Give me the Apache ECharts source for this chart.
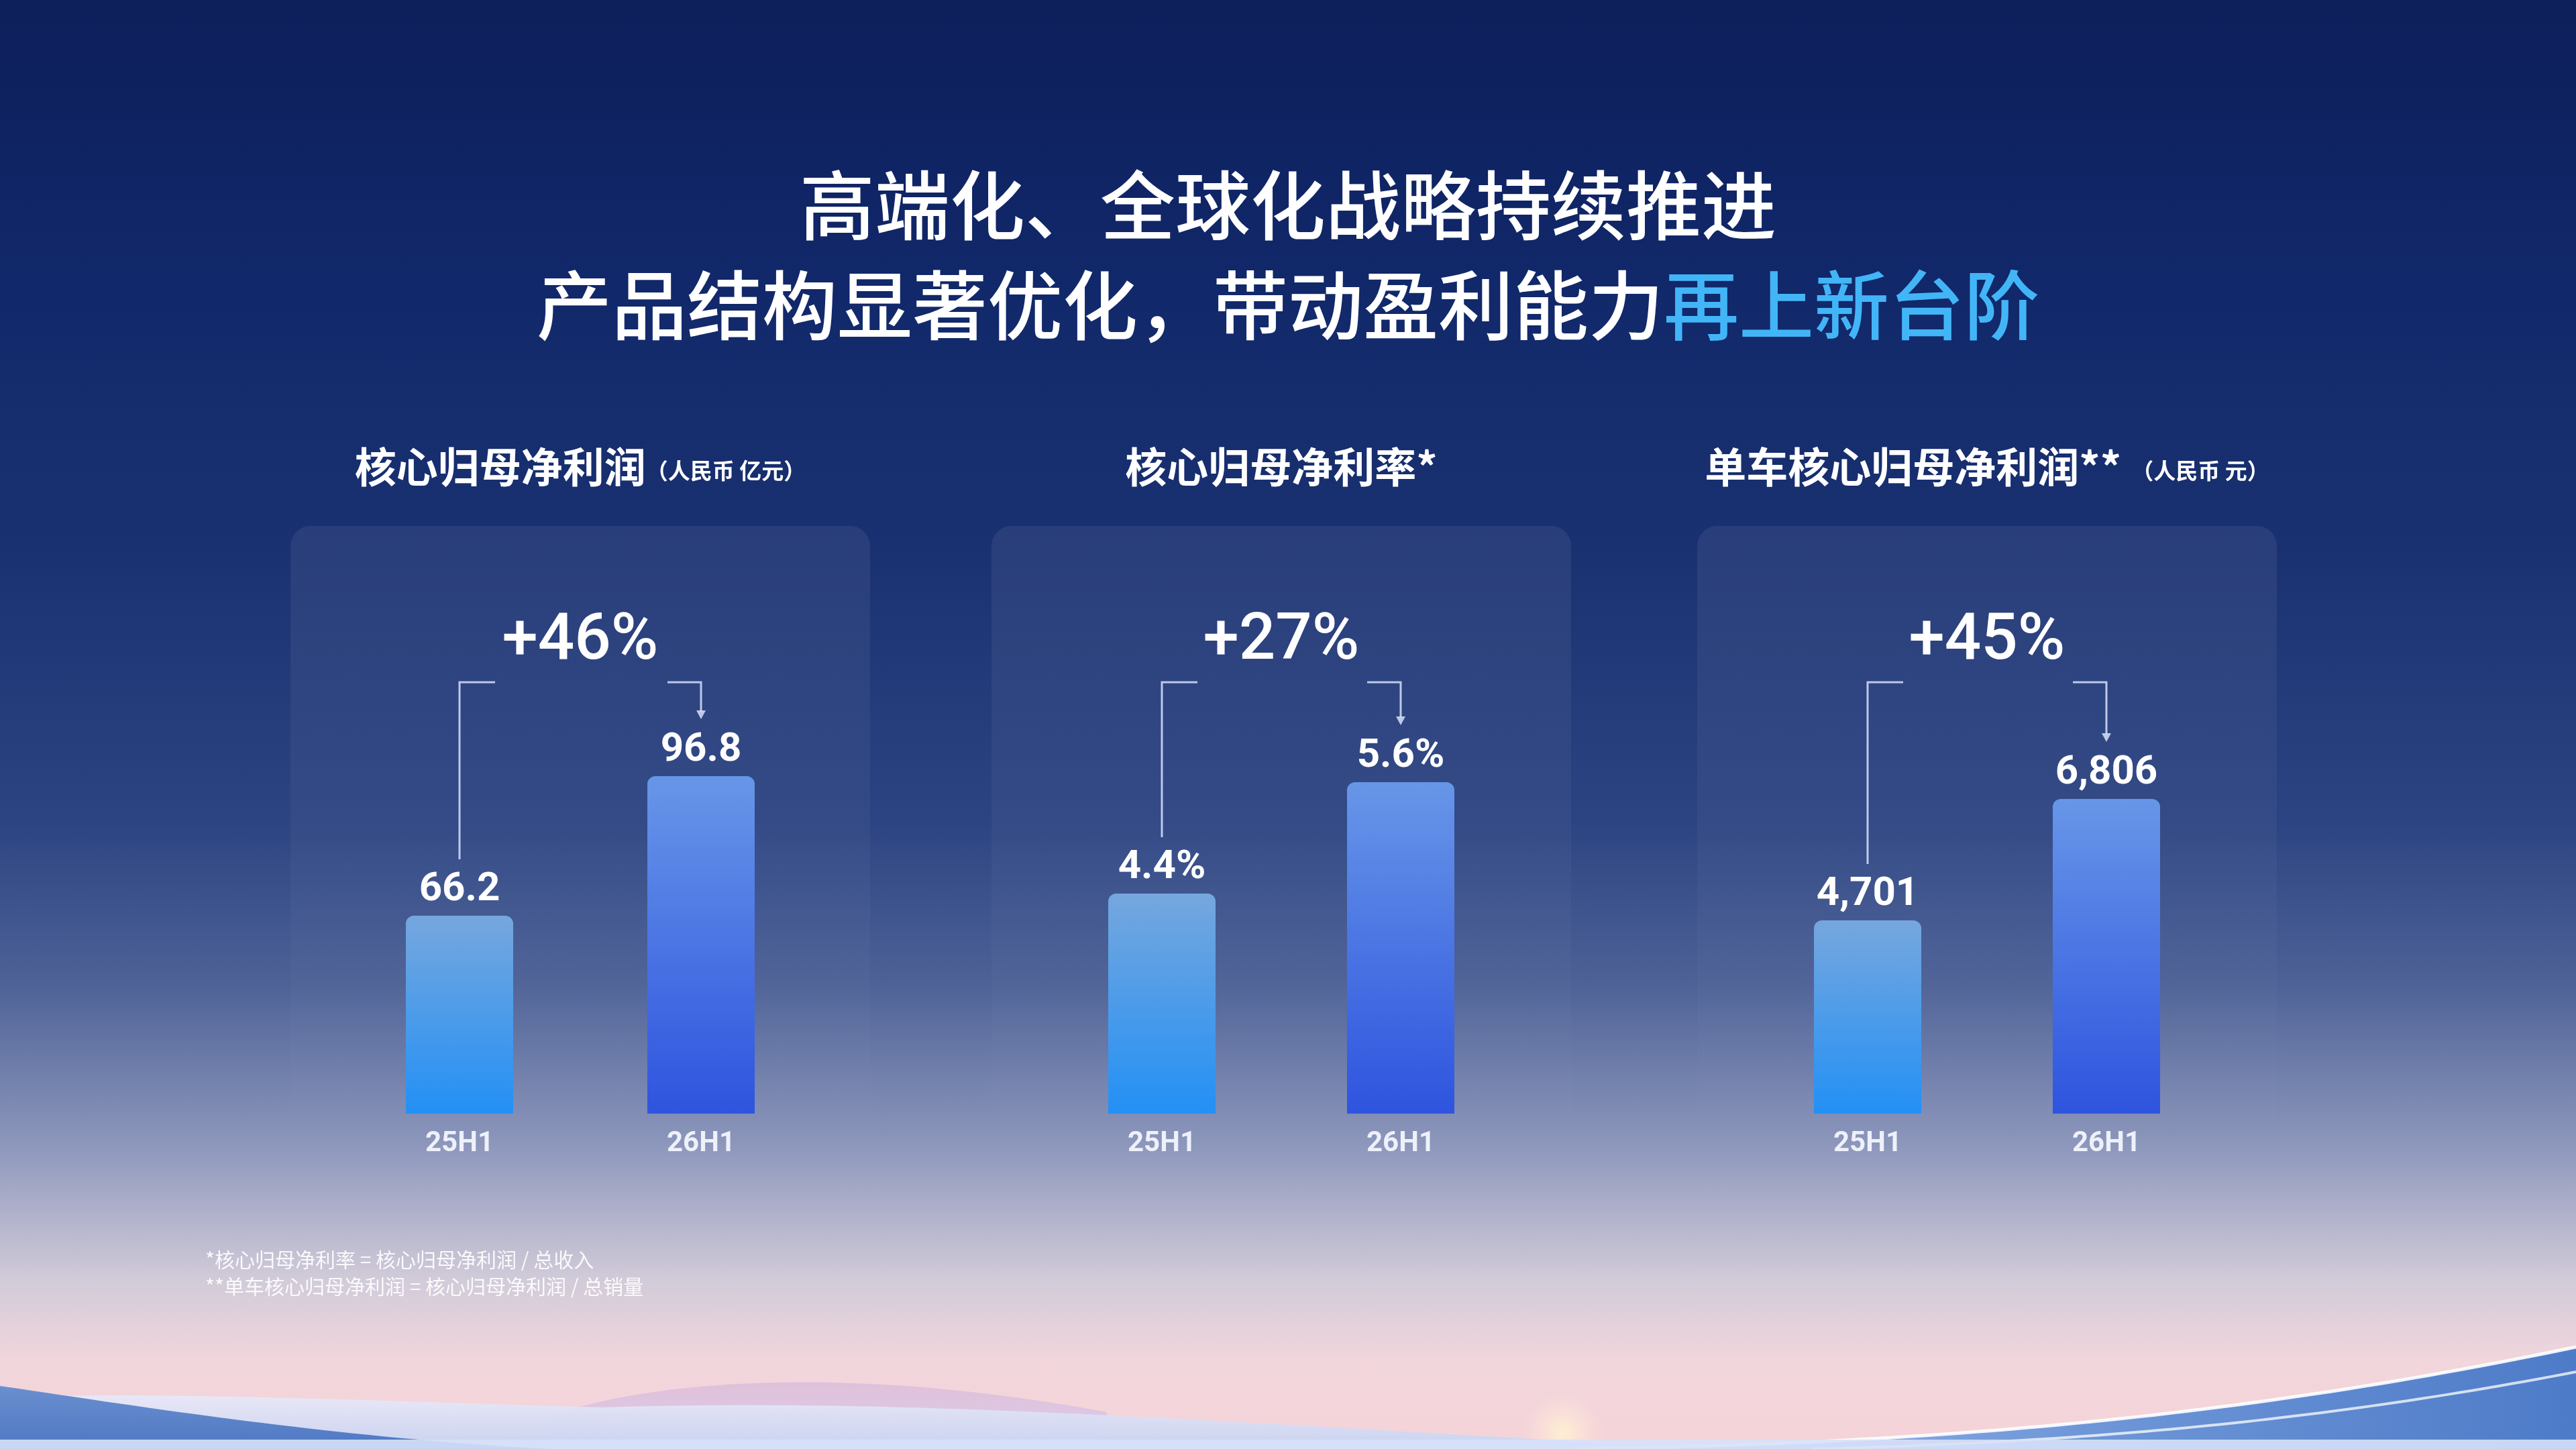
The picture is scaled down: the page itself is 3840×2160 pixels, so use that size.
<!DOCTYPE html>
<html>
<head>
<meta charset="utf-8">
<script src="https://cdn.jsdelivr.net/npm/echarts@6/dist/echarts.min.js"></script>
<style>
html,body{margin:0;padding:0;width:3840px;height:2160px;overflow:hidden;background:#0d1f5c;}
#c{width:3840px;height:2160px;}
</style>
</head>
<body>
<div id="c"></div>
<script>
// ---------------- data ----------------
const categories = ['25H1', '26H1'];
const panelTitles = ['核心归母净利润', '核心归母净利率*', '单车核心归母净利润**'];
const panelUnits = ['（人民币 亿元）', '', '  （人民币 元）'];
const coreNetProfit = [66.2, 96.8];        // 亿元
const coreNetMargin = [4.4, 5.6];          // %
const perVehicleProfit = [4701, 6806];     // 元
const growthLabels = ['+46%', '+27%', '+45%'];
const axisMin = [22.8, 2.03, 1352];
const axisMax = [119.9, 6.80, 9027];
const mainTitleLine1 = '高端化、全球化战略持续推进';
const mainTitleLine2 = '产品结构显著优化，带动盈利能力';
const mainTitleHighlight = '再上新台阶';
const footnotes = ['*核心归母净利率 = 核心归母净利润 / 总收入', '**单车核心归母净利润 = 核心归母净利润 / 总销量'];

// ---------------- layout / style ----------------
const W = 3840, H = 2160;
const panelSeries = [coreNetProfit, coreNetMargin, perVehicleProfit];
const formatters = [
  v => v.toFixed(1),
  v => v.toFixed(1) + '%',
  v => v.toLocaleString('en-US')
];
const gridLeft = [505, 1554, 2606];
const gridWidth = [720, 712, 712];
const gridTop = 1000;
const gridBottom = 500;
const CJK = '"Noto Sans CJK SC", "Noto Sans", sans-serif';
const NUM = 'Roboto, "Noto Sans", sans-serif';

function grad(c0, c1) {
  return { type: 'linear', x: 0, y: 0, x2: 0, y2: 1, colorStops: [{ offset: 0, color: c0 }, { offset: 1, color: c1 }] };
}
const barColors = [grad('#76a7de', '#2390f5'), grad('#6796e8', '#2e54df')];

const chart = echarts.init(document.getElementById('c'), null, { renderer: 'canvas' });

const grids = [], xAxes = [], yAxes = [], series = [];
for (let i = 0; i < 3; i++) {
  grids.push({ left: gridLeft[i], width: gridWidth[i], top: gridTop, bottom: gridBottom, outerBoundsMode: 'none', containLabel: false });
  xAxes.push({
    type: 'category', gridIndex: i, data: categories,
    axisLine: { show: false }, axisTick: { show: false }, splitLine: { show: false },
    axisLabel: { color: '#eef1fa', fontSize: 42, fontWeight: 'bold', fontFamily: NUM, margin: 24 }
  });
  yAxes.push({
    type: 'value', gridIndex: i, min: axisMin[i], max: axisMax[i], show: false,
    splitLine: { show: false }
  });
  series.push({
    type: 'bar', xAxisIndex: i, yAxisIndex: i, barWidth: 160,
    data: panelSeries[i].map((v, k) => ({ value: v, itemStyle: { color: barColors[k], borderRadius: [12, 12, 0, 0] } })),
    label: {
      show: true, position: 'top', distance: 8, color: '#ffffff',
      fontSize: 60, fontWeight: 'bold', fontFamily: NUM,
      formatter: p => formatters[i](p.value)
    },
    z: 5
  });
}

chart.setOption({
  animation: false,
  backgroundColor: 'transparent',
  grid: grids, xAxis: xAxes, yAxis: yAxes, series: series
});

// ---------------- decorations ----------------
function bez(p0, p1, p2, p3, n) {
  const pts = [];
  for (let i = 0; i <= n; i++) {
    const t = i / n, u = 1 - t;
    pts.push([
      u * u * u * p0[0] + 3 * u * u * t * p1[0] + 3 * u * t * t * p2[0] + t * t * t * p3[0],
      u * u * u * p0[1] + 3 * u * u * t * p1[1] + 3 * u * t * t * p2[1] + t * t * t * p3[1]
    ]);
  }
  return pts;
}

const g = [];
// background
g.push({
  type: 'rect', z: -100, silent: true,
  shape: { x: 0, y: 0, width: W, height: H },
  style: {
    fill: {
      type: 'linear', x: 0, y: 0, x2: 0, y2: 1, colorStops: [
        { offset: 0, color: '#0d1f5b' },
        { offset: 0.2, color: '#11286a' },
        { offset: 0.374, color: '#1a3171' },
        { offset: 0.567, color: '#2c4482' },
        { offset: 0.68, color: '#4e6297' },
        { offset: 0.79, color: '#8d97bc' },
        { offset: 0.884, color: '#d2cbd9' },
        { offset: 0.94, color: '#f1d6dc' },
        { offset: 1, color: '#f5d3d8' }
      ]
    }
  }
});
// warm glow near horizon
g.push({
  type: 'ellipse', z: -99, silent: true,
  shape: { cx: 2330, cy: 2135, rx: 260, ry: 60 },
  style: { fill: { type: 'radial', x: 0.5, y: 0.5, r: 0.5, colorStops: [
    { offset: 0, color: 'rgba(255,242,210,0.9)' }, { offset: 1, color: 'rgba(255,232,220,0)' }] } }
});
// pink mountain behind
g.push({
  type: 'polygon', z: -98, silent: true,
  shape: { points: bez([820, 2110], [1000, 2050], [1300, 2040], [1650, 2105], 40).concat([[1650, 2160], [820, 2160]]) },
  style: { fill: grad('rgba(222,190,218,0.9)', 'rgba(215,205,235,0.9)') }
});
// light hills
g.push({
  type: 'polygon', z: -97, silent: true,
  shape: { points: [[0, 2082]].concat(
    bez([0, 2082], [300, 2075], [600, 2090], [900, 2098], 30),
    bez([900, 2098], [1300, 2085], [1700, 2110], [2500, 2158], 40),
    [[2500, 2160], [0, 2160]]) },
  style: { fill: grad('rgba(232,232,248,0.95)', 'rgba(198,210,240,0.95)') }
});
// left blue hill
g.push({
  type: 'polygon', z: -96, silent: true,
  shape: { points: bez([0, 2066], [180, 2092], [480, 2142], [820, 2160], 40).concat([[0, 2160]]) },
  style: { fill: grad('#6a8fcf', '#4f78c4') }
});
// right blue wave
const waveEdge = bez([2350, 2160], [2900, 2152], [3350, 2110], [3840, 2008], 60);
g.push({
  type: 'polygon', z: -95, silent: true,
  shape: { points: waveEdge.concat([[3840, 2160]]) },
  style: { fill: { type: 'linear', x: 0, y: 0, x2: 1, y2: 0, colorStops: [
    { offset: 0, color: 'rgba(150,180,230,0.9)' }, { offset: 0.5, color: '#6f97d8' }, { offset: 1, color: '#4e7bc8' }] } }
});
g.push({
  type: 'polyline', z: -94, silent: true,
  shape: { points: waveEdge },
  style: { stroke: 'rgba(255,255,255,0.9)', lineWidth: 5, fill: null }
});
g.push({
  type: 'polyline', z: -94, silent: true,
  shape: { points: bez([2700, 2160], [3100, 2150], [3450, 2120], [3840, 2045], 60) },
  style: { stroke: 'rgba(255,255,255,0.75)', lineWidth: 4, fill: null }
});
// bottom light strip
g.push({
  type: 'rect', z: -93, silent: true,
  shape: { x: 0, y: 2146, width: W, height: 14 },
  style: { fill: 'rgba(215,225,248,0.9)' }
});

// panels
for (let i = 0; i < 3; i++) {
  const cx = gridLeft[i] + gridWidth[i] / 2;
  g.push({
    type: 'rect', z: -50, silent: true,
    shape: { x: cx - 432, y: 784, width: 864, height: 960, r: 30 },
    style: { fill: grad('rgba(255,255,255,0.065)', 'rgba(255,255,255,0)') }
  });
  // panel title
  g.push({
    type: 'text', z: 10, x: cx, y: 696,
    style: {
      text: '{a|' + panelTitles[i] + '}' + (panelUnits[i] ? '{b|' + panelUnits[i] + '}' : ''),
      align: 'center', verticalAlign: 'middle',
      rich: {
        a: { fontSize: 62, fontWeight: 'bold', fontFamily: CJK, fill: '#ffffff' },
        b: { fontSize: 33, fontWeight: 'bold', fontFamily: CJK, fill: '#ffffff', padding: [10, 0, 0, 0] }
      }
    }
  });
}

// main title
g.push({
  type: 'text', z: 10, x: W / 2, y: 306,
  style: { text: mainTitleLine1, align: 'center', verticalAlign: 'middle',
    fontSize: 112, fontWeight: 500, fontFamily: CJK, fill: '#ffffff' }
});
g.push({
  type: 'text', z: 10, x: W / 2, y: 455,
  style: {
    text: '{w|' + mainTitleLine2 + '}{c|' + mainTitleHighlight + '}',
    align: 'center', verticalAlign: 'middle',
    rich: {
      w: { fontSize: 112, fontWeight: 500, fontFamily: CJK, fill: '#ffffff' },
      c: { fontSize: 112, fontWeight: 500, fontFamily: CJK, fill: '#42b5f7' }
    }
  }
});

// footnotes
footnotes.forEach((t, k) => {
  g.push({
    type: 'text', z: 10, x: 306, y: 1878 + k * 40,
    style: { text: t, align: 'left', verticalAlign: 'middle', fontSize: 30, fontFamily: CJK, fill: 'rgba(255,255,255,0.9)' }
  });
});

// growth labels + brackets
const lineColor = 'rgba(215,225,250,0.85)';
for (let i = 0; i < 3; i++) {
  const p1 = chart.convertToPixel({ gridIndex: i }, [0, panelSeries[i][0]]);
  const p2 = chart.convertToPixel({ gridIndex: i }, [1, panelSeries[i][1]]);
  const yB = 1017;
  g.push({
    type: 'text', z: 10, x: (p1[0] + p2[0]) / 2, y: 958,
    style: { text: growthLabels[i], align: 'center', verticalAlign: 'middle',
      fontSize: 96, fontWeight: 500, fontFamily: NUM, fill: '#ffffff' }
  });
  g.push({
    type: 'polyline', z: 10, silent: true,
    shape: { points: [[p1[0] + 53, yB], [p1[0], yB], [p1[0], p1[1] - 84]] },
    style: { stroke: lineColor, lineWidth: 3, fill: null }
  });
  g.push({
    type: 'polyline', z: 10, silent: true,
    shape: { points: [[p2[0] - 50, yB], [p2[0], yB], [p2[0], p2[1] - 96]] },
    style: { stroke: lineColor, lineWidth: 3, fill: null }
  });
  g.push({
    type: 'polygon', z: 10, silent: true,
    shape: { points: [[p2[0] - 7, p2[1] - 98], [p2[0] + 7, p2[1] - 98], [p2[0], p2[1] - 85]] },
    style: { fill: lineColor }
  });
}

chart.setOption({ graphic: g });
</script>
</body>
</html>
